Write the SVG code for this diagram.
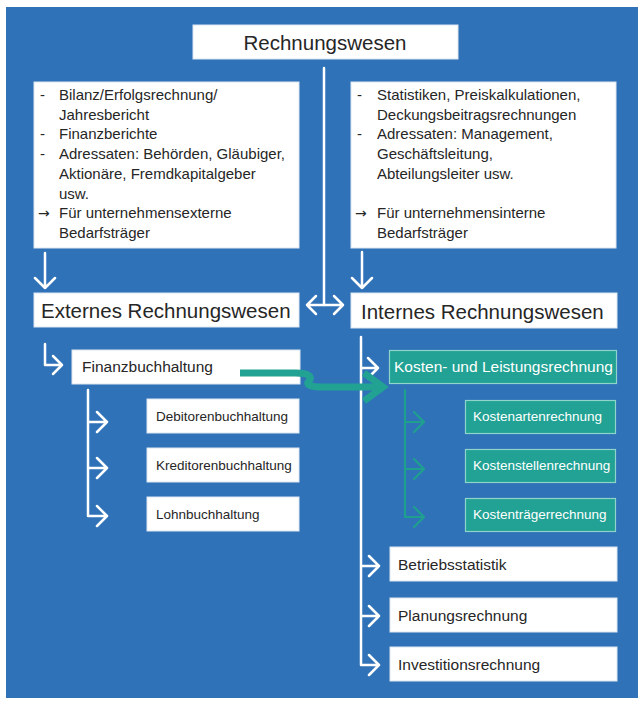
<svg xmlns="http://www.w3.org/2000/svg" width="643" height="702" viewBox="0 0 643 702">
<style>
  .t { font-family: "Liberation Sans", Arial, sans-serif; fill: #262626; }
  .h { font-size: 20.5px; }
  .m { font-size: 15.5px; }
  .b { font-size: 15px; }
  .s { font-size: 13.5px; }
  .ar { font-family: "DejaVu Sans", sans-serif; font-size: 14px; }
  .w { fill: #ffffff; }
  .box { fill: #ffffff; stroke: #dce6f1; stroke-width: 1; }
  .tbox { fill: #21a294; stroke: #8fd4ca; stroke-width: 1.2; }
  .wl { fill: none; stroke: #ffffff; stroke-width: 2.5; stroke-linecap: round; stroke-linejoin: round; }
  .gl { fill: none; stroke: #1fa08f; stroke-width: 2.2; stroke-linecap: round; stroke-linejoin: round; }
  .big { fill: none; stroke: #21a293; stroke-width: 7; stroke-linecap: butt; stroke-linejoin: miter; }
</style>
<rect x="0" y="0" width="643" height="702" fill="#ffffff"/>
<rect x="6" y="7" width="632" height="691" fill="#2f72b8"/>

<g id="rechnungswesen">
  <rect class="box" x="193" y="25" width="265" height="34"/>
  <text class="t h" x="325" y="50" text-anchor="middle">Rechnungswesen</text>
</g>

<g id="extern-info">
  <rect class="box" x="34" y="82" width="265" height="166"/>
  <g class="t b">
    <text x="40" y="100">-</text><text x="59" y="100">Bilanz/Erfolgsrechnung/</text>
    <text x="59" y="120">Jahresbericht</text>
    <text x="40" y="139">-</text><text x="59" y="139">Finanzberichte</text>
    <text x="40" y="159">-</text><text x="59" y="159">Adressaten: Behörden, Gläubiger,</text>
    <text x="59" y="179">Aktionäre, Fremdkapitalgeber</text>
    <text x="59" y="199">usw.</text>
    <text class="ar" x="38" y="218">→</text><text x="59" y="218">Für unternehmensexterne</text>
    <text x="59" y="238">Bedarfsträger</text>
  </g>
</g>

<g id="intern-info">
  <rect class="box" x="351" y="82" width="265" height="166"/>
  <g class="t b">
    <text x="357" y="100">-</text><text x="377" y="100">Statistiken, Preiskalkulationen,</text>
    <text x="377" y="120">Deckungsbeitragsrechnungen</text>
    <text x="357" y="139">-</text><text x="377" y="139">Adressaten: Management,</text>
    <text x="377" y="159">Geschäftsleitung,</text>
    <text x="377" y="179">Abteilungsleiter usw.</text>
    <text class="ar" x="355" y="218">→</text><text x="377" y="218">Für unternehmensinterne</text>
    <text x="377" y="238">Bedarfsträger</text>
  </g>
</g>

<g id="externes">
  <rect class="box" x="34" y="293" width="265" height="34"/>
  <text class="t h" x="41" y="318">Externes Rechnungswesen</text>
</g>

<g id="internes">
  <rect class="box" x="351" y="293" width="266" height="35"/>
  <text class="t h" x="361" y="319">Internes Rechnungswesen</text>
</g>

<g id="finanzbuchhaltung">
  <rect class="box" x="72" y="350" width="228" height="34"/>
  <text class="t m" x="82" y="372">Finanzbuchhaltung</text>
</g>

<g id="debitoren">
  <rect class="box" x="147" y="399" width="152" height="34"/>
  <text class="t s" x="156" y="421">Debitorenbuchhaltung</text>
</g>
<g id="kreditoren">
  <rect class="box" x="147" y="448" width="152" height="34"/>
  <text class="t s" x="156" y="470">Kreditorenbuchhaltung</text>
</g>
<g id="lohn">
  <rect class="box" x="147" y="497" width="152" height="34"/>
  <text class="t s" x="156" y="519">Lohnbuchhaltung</text>
</g>

<g id="kostenleistung">
  <rect class="tbox" x="389.5" y="350.5" width="227" height="33"/>
  <text class="t m w" x="394" y="372">Kosten- und Leistungsrechnung</text>
</g>
<g id="kostenarten">
  <rect class="tbox" x="465.5" y="400.5" width="150" height="33"/>
  <text class="t s w" x="473" y="421">Kostenartenrechnung</text>
</g>
<g id="kostenstellen">
  <rect class="tbox" x="465.5" y="449.5" width="150" height="33"/>
  <text class="t s w" x="473" y="470">Kostenstellenrechnung</text>
</g>
<g id="kostentraeger">
  <rect class="tbox" x="465.5" y="498.5" width="150" height="33"/>
  <text class="t s w" x="473" y="519">Kostenträgerrechnung</text>
</g>

<g id="betriebsstatistik">
  <rect class="box" x="390" y="547" width="227" height="34"/>
  <text class="t m" x="398" y="570">Betriebsstatistik</text>
</g>
<g id="planungsrechnung">
  <rect class="box" x="390" y="598" width="227" height="34"/>
  <text class="t m" x="398" y="621">Planungsrechnung</text>
</g>
<g id="investitionsrechnung">
  <rect class="box" x="390" y="647" width="227" height="34"/>
  <text class="t m" x="398" y="670">Investitionsrechnung</text>
</g>

<g id="connectors">
  <path class="wl" d="M324,68 V305"/>
  <path class="wl" d="M307,305 H343 M316,296 L307,305 L316,314 M334,296 L343,305 L334,314"/>
  <path class="wl" d="M45,253 V288 M35,278 L45,288 L55,278"/>
  <path class="wl" d="M362,252 V288 M352,278 L362,288 L372,278"/>
  <path class="wl" d="M45,344 V365 H62 M53,356 L62,365 L53,374"/>
  <path class="wl" d="M88,390 V516 M88,422 H107 M88,468 H107 M88,516 H107 M97,412 L107,422 L97,432 M97,458 L107,468 L97,478 M97,506 L107,516 L97,526"/>
  <path class="wl" d="M361,337 V665 M361,368 H378 M361,566 H379 M361,616 H379 M361,665 H379 M368,358 L378,368 L368,378 M369,556 L379,566 L369,576 M369,606 L379,616 L369,626 M369,655 L379,665 L369,675"/>
  <path class="gl" d="M405,390 V517 M405,422 H424 M405,469 H424 M405,517 H424 M414,412 L424,422 L414,432 M414,459 L424,469 L414,479 M414,507 L424,517 L414,527"/>
  <path class="big" d="M240,373 L296,373 C309,373 313,377 309,381 C305,385 311,387 322,387 L382,387"/>
  <path class="big" d="M364,373 L383,387 L364,401"/>
</g>
</svg>
